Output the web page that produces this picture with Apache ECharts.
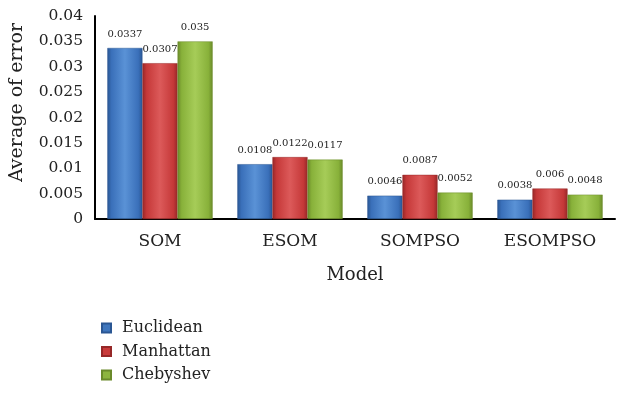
<!DOCTYPE html>
<html>
<head>
<meta charset="utf-8">
<script src="https://cdn.jsdelivr.net/npm/echarts@6/dist/echarts.min.js"></script>
<style>
  html, body { margin: 0; padding: 0; background: #fff; }
  #chart { width: 619px; height: 393px; }
</style>
</head>
<body>
<div id="chart"></div>
<script>
// Average clustering error for each model and distance metric
const models = ['SOM', 'ESOM', 'SOMPSO', 'ESOMPSO'];
const euclidean = [0.0337, 0.0108, 0.0046, 0.0038];
const manhattan = [0.0307, 0.0122, 0.0087, 0.006];
const chebyshev = [0.035, 0.0117, 0.0052, 0.0048];
const yTicks = [0, 0.005, 0.01, 0.015, 0.02, 0.025, 0.03, 0.035, 0.04];

const FONT = '"DejaVu Serif", "Liberation Serif", serif';

// Bevelled bar fill: lighter centre, darker edges
function bevel(edge, mid, light) {
  return new echarts.graphic.LinearGradient(0, 0, 1, 0, [
    { offset: 0, color: edge },
    { offset: 0.12, color: mid },
    { offset: 0.5, color: light },
    { offset: 0.88, color: mid },
    { offset: 1, color: edge }
  ]);
}

function makeSeries(name, data, edge, mid, light) {
  return {
    name: name,
    type: 'bar',
    data: data,
    barGap: '0%',
    barCategoryGap: '19%',
    itemStyle: { color: bevel(edge, mid, light), borderColor: edge, borderWidth: 0.5 },
    label: {
      show: true,
      position: 'top',
      distance: 9,
      fontFamily: FONT,
      fontSize: 10,
      color: '#222',
      formatter: p => String(p.value)
    }
  };
}

const chart = echarts.init(document.getElementById('chart'), null, { renderer: 'canvas' });
chart.setOption({
  animation: false,
  backgroundColor: '#fff',
  grid: { left: 94, right: 4, top: 16, bottom: 174, containLabel: false },
  legend: {
    orient: 'vertical',
    left: 96,
    top: 315,
    itemWidth: 9,
    itemHeight: 9,
    itemGap: 7.5,
    icon: 'rect',
    textStyle: { fontFamily: FONT, fontSize: 16, color: '#222', padding: [0, 0, 0, 6] },
    data: [
      { name: 'Euclidean', itemStyle: { color: '#3f76bd' } },
      { name: 'Manhattan', itemStyle: { color: '#c93a3a' } },
      { name: 'Chebyshev', itemStyle: { color: '#8db53e' } }
    ]
  },
  xAxis: {
    type: 'category',
    data: models,
    name: 'Model',
    nameLocation: 'middle',
    nameGap: 47,
    nameTextStyle: { fontFamily: FONT, fontSize: 18, color: '#222' },
    axisLine: { show: true, lineStyle: { color: '#000', width: 2 } },
    axisTick: { show: false },
    axisLabel: { fontFamily: FONT, fontSize: 17, color: '#222', margin: 14 }
  },
  yAxis: {
    type: 'value',
    min: 0,
    max: 0.04,
    interval: 0.005,
    name: 'Average of error',
    nameLocation: 'middle',
    nameGap: 68,
    nameTextStyle: { fontFamily: FONT, fontSize: 19, color: '#222', padding: [0, 0, 0, 30] },
    axisLine: { show: true, lineStyle: { color: '#000', width: 2 } },
    axisTick: { show: false },
    splitLine: { show: false },
    axisLabel: {
      fontFamily: FONT, fontSize: 15.5, color: '#222', margin: 12,
      formatter: v => {
        const t = yTicks.find(x => Math.abs(x - v) < 1e-9);
        return t === undefined ? '' : String(t);
      }
    }
  },
  series: [
    makeSeries('Euclidean', euclidean, '#2a5693', '#3a70ba', '#5a92d6'),
    makeSeries('Manhattan', manhattan, '#962828', '#c53838', '#dc5a5a'),
    makeSeries('Chebyshev', chebyshev, '#6a8a2a', '#88b13a', '#a6cc58')
  ]
});
</script>
</body>
</html>
